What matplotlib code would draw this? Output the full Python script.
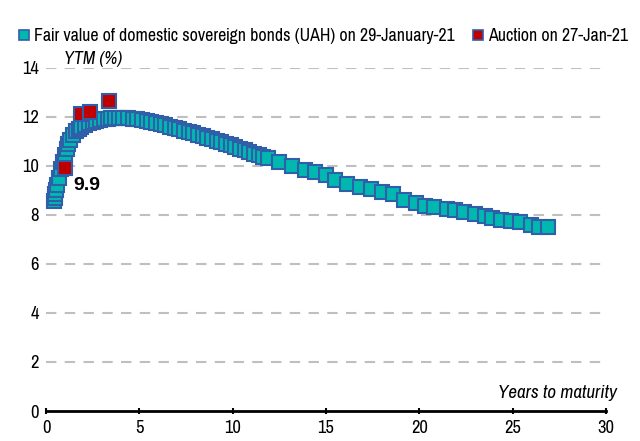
import matplotlib
matplotlib.use("Agg")
import matplotlib.pyplot as plt
from matplotlib.lines import Line2D
from matplotlib import font_manager as fm

# ---- data ----
fair_maturity = [0.45, 0.5, 0.5, 0.55, 0.6, 0.7, 0.8, 0.9, 1.0, 1.1, 1.2, 1.3, 1.45, 1.6,
                 1.75, 1.9, 2.1, 2.3, 2.5, 2.7, 2.9, 3.1, 3.3, 3.5, 3.7, 3.9, 4.15,
                 4.4, 4.65, 4.9, 5.15, 5.4, 5.65, 5.9, 6.15, 6.4, 6.65, 6.9, 7.15,
                 7.4, 7.65, 7.9, 8.15, 8.4, 8.65, 8.9, 9.15, 9.4, 9.65, 9.9, 10.15,
                 10.4, 10.65, 10.9, 11.15, 11.4, 11.65, 11.9,
                 12.5, 13.2, 13.9, 14.4, 15.0, 15.5, 16.1, 16.8, 17.4, 18.0, 18.6, 19.2,
                 19.8, 20.3, 20.8, 21.5, 21.9, 22.4, 23.0, 23.5, 23.9, 24.4, 24.9, 25.4,
                 26.0, 26.4, 26.9]
fair_ytm = [8.55, 8.7, 8.85, 9.0, 9.2, 9.5, 9.85, 10.15, 10.45, 10.7, 10.9, 11.05, 11.25, 11.4,
            11.5, 11.6, 11.68, 11.75, 11.8, 11.84, 11.87, 11.9, 11.92, 11.93, 11.93, 11.93, 11.93,
            11.93, 11.92, 11.9, 11.87, 11.84, 11.8, 11.75, 11.7, 11.65, 11.6, 11.55, 11.48,
            11.42, 11.37, 11.32, 11.26, 11.2, 11.14, 11.08, 11.02, 10.96, 10.9, 10.83, 10.77,
            10.7, 10.63, 10.56, 10.49, 10.43, 10.37, 10.3,
            10.14, 10.0, 9.83, 9.75, 9.62, 9.4, 9.27, 9.15, 9.07, 8.95, 8.85, 8.62,
            8.5, 8.38, 8.3, 8.24, 8.2, 8.12, 8.02, 7.94, 7.88, 7.8, 7.76, 7.7,
            7.6, 7.5, 7.5]
auction_maturity = [1.0, 1.85, 2.35, 3.35]
auction_ytm = [9.9, 12.1, 12.2, 12.63]
label_value = "9.9"

x_ticks = [0, 5, 10, 15, 20, 25, 30]
y_ticks = [0, 2, 4, 6, 8, 10, 12, 14]

legend_fair = "Fair value of domestic sovereign bonds (UAH) on 29-January-21"
legend_auction = "Auction on 27-Jan-21"

# ---- fonts: pick an Arial-Narrow-like family if present ----
_entries = fm.fontManager.ttflist
_names = {f.name for f in _entries}
_narrow = ['Liberation Sans Narrow', 'Nimbus Sans Narrow', 'Arial Narrow', 'Pragati Narrow',
           'PT Sans Narrow', 'Archivo Narrow', 'Roboto Condensed']
MAIN = next((n for n in _narrow if n in _names), 'Liberation Sans')
ITAL = next((n for n in _narrow if any(f.name == n and f.style == 'italic' for f in _entries)), MAIN)
BOLD = 'Liberation Sans'

plt.rcParams['font.family'] = [MAIN, 'DejaVu Sans']
plt.rcParams['font.size'] = 14

CYAN = "#00B8B0"
BLUE = "#2E5FA8"
RED = "#C00000"

fig = plt.figure(figsize=(6.4, 4.41), dpi=100)
ax = fig.add_axes([0.0719, 0.068, 0.875, 0.7785])

ax.plot(fair_maturity, fair_ytm, linestyle='none', marker='s', markersize=9.4,
        markerfacecolor=CYAN, markeredgecolor=BLUE, markeredgewidth=1.5,
        clip_on=False, zorder=3)
ax.plot(auction_maturity, auction_ytm, linestyle='none', marker='s', markersize=9.4,
        markerfacecolor=RED, markeredgecolor=BLUE, markeredgewidth=1.5,
        clip_on=False, zorder=4)

ax.text(auction_maturity[0] + 0.45, auction_ytm[0] - 0.7, label_value,
        fontsize=14, fontweight='bold', family=[BOLD, 'DejaVu Sans'],
        ha='left', va='center', zorder=5)

ax.set_xlim(0, 30)
ax.set_ylim(0, 14)
ax.set_xticks(x_ticks)
ax.set_yticks(y_ticks)
ax.set_xticklabels([str(v) for v in x_ticks])
ax.set_yticklabels([str(v) for v in y_ticks])

for s in ['top', 'right', 'left']:
    ax.spines[s].set_visible(False)
ax.spines['bottom'].set_linewidth(2)
ax.spines['bottom'].set_color('black')

ax.tick_params(axis='y', length=0, pad=5, labelsize=14.5)
ax.tick_params(axis='x', direction='inout', length=5, width=1.5, pad=4, labelsize=14.5)

for v in y_ticks[1:]:
    ax.axhline(v, color='#BFBFBF', linewidth=1.5, linestyle=(0, (5, 4)), zorder=1)

ax.text(0.033, 1.003, "YTM (%)", transform=ax.transAxes, style='italic',
        family=[ITAL, 'DejaVu Sans'], fontsize=13, ha='left', va='bottom',
        bbox=dict(facecolor='white', edgecolor='none', pad=1), zorder=2)
ax.text(1.02, 0.03, "Years to maturity", transform=ax.transAxes, style='italic',
        family=[ITAL, 'DejaVu Sans'], fontsize=13.7, ha='right', va='bottom', zorder=2)

handles = [
    Line2D([], [], linestyle='none', marker='s', markersize=6.5,
           markerfacecolor=CYAN, markeredgecolor=BLUE, markeredgewidth=1.2),
    Line2D([], [], linestyle='none', marker='s', markersize=6.5,
           markerfacecolor=RED, markeredgecolor=BLUE, markeredgewidth=1.2),
]
fig.legend(handles, [legend_fair, legend_auction], loc='center',
           bbox_to_anchor=(0.505, 0.918), ncol=2, frameon=False, fontsize=14,
           handlelength=0.6, handletextpad=0.2, columnspacing=0.9,
           borderpad=0, borderaxespad=0)

fig.savefig("out.png", dpi=100)
